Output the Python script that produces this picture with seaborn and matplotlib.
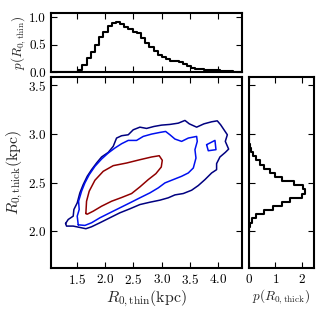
import numpy as np
import pandas as pd
import matplotlib
matplotlib.use("Agg")
import matplotlib.pyplot as plt
import seaborn as sns

# ---------------------------------------------------------------
# data
# ---------------------------------------------------------------
# p(R0,thin): step histogram, bins of 0.074 kpc starting at 1.08
thin_bin_start = 1.08
thin_bin_width = 0.074
thin_p = [0.0, 0.0, 0.0, 0.002, 0.004, 0.008, 0.03, 0.125, 0.25, 0.36,
          0.50, 0.64, 0.74, 0.84, 0.89, 0.91, 0.88, 0.83, 0.78, 0.74,
          0.72, 0.62, 0.54, 0.46, 0.38, 0.32, 0.27, 0.23, 0.21, 0.20,
          0.18, 0.15, 0.11, 0.07, 0.05, 0.05, 0.045, 0.04, 0.035, 0.03,
          0.02, 0.015, 0.01, 0.006, 0.003]

# p(R0,thick): step histogram, bins of 0.0425 kpc starting at 1.964
thick_bin_start = 1.964
thick_bin_width = 0.0425
thick_p = [0.01, 0.02, 0.05, 0.12, 0.28, 0.55, 0.92, 1.25, 1.55, 2.00,
           2.13, 2.05, 1.70, 1.25, 1.00, 0.78, 0.58, 0.40, 0.27, 0.15,
           0.06, 0.03, 0.015, 0.008, 0.004]

# joint-density contours (R0,thin, R0,thick) in kpc
outer_x = [1.300, 1.347, 1.435, 1.447, 1.506, 1.553, 1.612, 1.683, 1.760, 1.848,
           1.937, 2.055, 2.143, 2.202, 2.291, 2.409, 2.497, 2.615, 2.733, 2.863,
           2.999, 3.146, 3.294, 3.412, 3.489, 3.619, 3.748, 3.884, 3.984, 4.044,
           4.103, 4.162, 4.126, 4.185, 4.126, 4.031, 3.972, 3.972, 3.884, 3.766,
           3.648, 3.530, 3.382, 3.235, 3.116, 2.969, 2.793, 2.615, 2.437, 2.260,
           2.083, 1.907, 1.760, 1.659, 1.553, 1.435, 1.317]
outer_y = [2.082, 2.123, 2.157, 2.225, 2.293, 2.396, 2.481, 2.566, 2.634, 2.702,
           2.764, 2.811, 2.873, 2.958, 2.982, 2.992, 3.043, 3.070, 3.057, 3.077,
           3.091, 3.098, 3.111, 3.139, 3.104, 3.070, 3.104, 3.125, 3.135, 3.094,
           3.043, 2.992, 2.924, 2.845, 2.811, 2.764, 2.696, 2.634, 2.600, 2.532,
           2.471, 2.423, 2.389, 2.375, 2.345, 2.321, 2.300, 2.276, 2.232, 2.191,
           2.140, 2.089, 2.048, 2.028, 2.041, 2.055, 2.055]

middle_x = [1.524, 1.506, 1.541, 1.530, 1.583, 1.642, 1.719, 1.819, 1.937, 2.055,
            2.173, 2.291, 2.409, 2.556, 2.674, 2.822, 2.969, 3.070, 3.146, 3.235,
            3.353, 3.471, 3.619, 3.630, 3.589, 3.607, 3.560, 3.471, 3.353, 3.205,
            3.058, 2.940, 2.793, 2.615, 2.437, 2.260, 2.083, 1.907, 1.760, 1.642]
middle_y = [2.068, 2.157, 2.225, 2.310, 2.413, 2.498, 2.583, 2.668, 2.743, 2.805,
            2.856, 2.900, 2.934, 2.934, 2.975, 2.999, 3.016, 3.026, 2.992, 2.948,
            2.924, 2.958, 2.975, 2.924, 2.839, 2.753, 2.651, 2.600, 2.566, 2.532,
            2.498, 2.447, 2.396, 2.345, 2.293, 2.242, 2.191, 2.140, 2.089, 2.062]

island_x = [3.795, 3.943, 3.961, 3.825]
island_y = [2.890, 2.934, 2.839, 2.828]

inner_x = [1.659, 1.671, 1.718, 1.819, 1.966, 2.143, 2.379, 2.615, 2.822, 2.957,
           3.011, 2.993, 2.898, 2.763, 2.615, 2.468, 2.291, 2.114, 1.937, 1.789,
           1.683]
inner_y = [2.184, 2.310, 2.413, 2.525, 2.617, 2.675, 2.702, 2.736, 2.764, 2.777,
           2.730, 2.661, 2.593, 2.532, 2.457, 2.389, 2.348, 2.310, 2.259, 2.208,
           2.177]

main_xticks = [1.5, 2.0, 2.5, 3.0, 3.5, 4.0]
main_yticks = [2.0, 2.5, 3.0, 3.5]
top_yticks = [0.0, 0.5, 1.0]
side_xticks = [0, 1, 2]

# ---------------------------------------------------------------
sns.set_style("ticks")
plt.rcParams.update({
    "font.family": ["cmr10", "DejaVu Serif"],
    "mathtext.fontset": "cm",
    "axes.formatter.use_mathtext": True,
    "axes.unicode_minus": False,
    "font.size": 9.5,
    "axes.linewidth": 1.5,
    "axes.edgecolor": "black",
    "xtick.direction": "in",
    "ytick.direction": "in",
    "xtick.top": True,
    "ytick.right": True,
    "xtick.major.size": 4,
    "ytick.major.size": 4,
    "xtick.major.width": 0.8,
    "ytick.major.width": 0.8,
    "xtick.color": "black",
    "ytick.color": "black",
    "xtick.labelsize": 9.5,
    "ytick.labelsize": 9.5,
})

fig = plt.figure(figsize=(3.2, 3.2), dpi=100)
ax_main = fig.add_axes([0.159, 0.1625, 0.597, 0.597])
ax_top = fig.add_axes([0.159, 0.775, 0.597, 0.184])
ax_side = fig.add_axes([0.778, 0.1625, 0.203, 0.597])

# contours
def closed(xs, ys):
    return list(xs) + [xs[0]], list(ys) + [ys[0]]

for xs, ys, col in [(outer_x, outer_y, "#000080"),
                    (middle_x, middle_y, "#0010f0"),
                    (island_x, island_y, "#0010f0"),
                    (inner_x, inner_y, "#900000")]:
    cx, cy = closed(xs, ys)
    sns.lineplot(x=cx, y=cy, sort=False, estimator=None, color=col,
                 linewidth=1.1, ax=ax_main)

ax_main.set_xlim(1.04, 4.42)
ax_main.set_ylim(1.625, 3.585)
ax_main.set_xticks(main_xticks)
ax_main.set_yticks(main_yticks)
ax_main.set_xlabel(r"$R_{0,\rm thin}(\rm kpc)$", fontsize=11.5, labelpad=1)
ax_main.set_ylabel(r"$R_{0,\rm thick}(\rm kpc)$", fontsize=11.5, labelpad=2)

# top histogram
n_thin = len(thin_p)
thin_centers = thin_bin_start + thin_bin_width * (np.arange(n_thin) + 0.5)
thin_df = pd.DataFrame({"r": thin_centers, "p": thin_p})
sns.histplot(data=thin_df, x="r", weights="p", bins=n_thin,
             binrange=(thin_bin_start, thin_bin_start + thin_bin_width * n_thin),
             element="step", fill=False, color="black", linewidth=1.5, ax=ax_top)
ax_top.set_xlim(1.04, 4.42)
ax_top.set_ylim(0, 1.08)
ax_top.set_xticks(main_xticks)
ax_top.set_xticklabels([])
ax_top.set_yticks(top_yticks)
ax_top.set_yticklabels(["0.0", "0.5", "1.0"])
ax_top.set_xlabel("")
ax_top.set_ylabel(r"$p(R_{0,\rm thin})$", fontsize=9.5, labelpad=1)

# side histogram
n_thick = len(thick_p)
thick_centers = thick_bin_start + thick_bin_width * (np.arange(n_thick) + 0.5)
thick_df = pd.DataFrame({"r": thick_centers, "p": thick_p})
sns.histplot(data=thick_df, y="r", weights="p", bins=n_thick,
             binrange=(thick_bin_start, thick_bin_start + thick_bin_width * n_thick),
             element="step", fill=False, color="black", linewidth=1.5, ax=ax_side)
ax_side.set_ylim(1.625, 3.585)
ax_side.set_xlim(0, 2.45)
ax_side.set_yticks(main_yticks)
ax_side.set_yticklabels([])
ax_side.set_xticks(side_xticks)
ax_side.set_ylabel("")
ax_side.set_xlabel(r"$p(R_{0,\rm thick})$", fontsize=9.5, labelpad=1)

for ax in (ax_main, ax_top, ax_side):
    for s in ax.spines.values():
        s.set_visible(True)
        s.set_linewidth(1.5)

fig.savefig("out.png", dpi=100)
